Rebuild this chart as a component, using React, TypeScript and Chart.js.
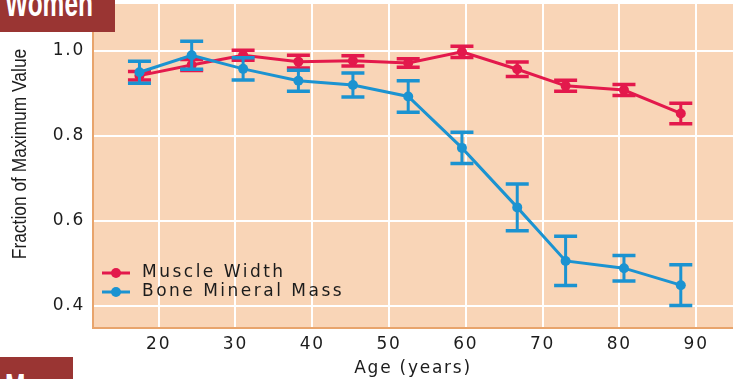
import React, { useEffect, useRef } from "react";
import { Chart, registerables } from "chart.js";

Chart.register(...registerables);

// ---- data ----
const ages = [17.5, 24.3, 31, 38.2, 45.3, 52.5, 59.5, 66.7, 73, 80.6, 88];
const muscleWidth = [0.942, 0.967, 0.99, 0.975, 0.977, 0.972, 0.998, 0.957, 0.918, 0.908, 0.853];
const muscleErr = [0.01, 0.013, 0.012, 0.015, 0.012, 0.01, 0.013, 0.017, 0.013, 0.013, 0.024];
const boneMass = [0.95, 0.99, 0.958, 0.93, 0.92, 0.893, 0.772, 0.632, 0.506, 0.489, 0.449];
const boneErr = [0.026, 0.033, 0.026, 0.025, 0.028, 0.037, 0.037, 0.055, 0.058, 0.03, 0.048];
const xTicks = [20, 30, 40, 50, 60, 70, 80, 90];
const yTicks = [0.4, 0.6, 0.8, 1.0];
const seriesLabels = ["Muscle Width", "Bone Mineral Mass"];
const xTitle = "Age (years)";
const yTitle = "Fraction of Maximum Value";
const topTag = "Women";
const bottomTag = "Men";

const RED = "#e3194c";
const BLUE = "#1b93d1";
const PEACH = "#f9d5b7";
const BORDER = "#e8a46c";
const TEXT = "#1c1c1c";
const TAG = "#9a3533";
const WIDE_FONT = "'DejaVu Sans', sans-serif";
const PLAIN_FONT = "'Liberation Sans', Arial, sans-serif";

const bgPlugin = {
  id: "bgPlugin",
  beforeDraw(chart: any) {
    const { ctx, chartArea } = chart;
    ctx.save();
    ctx.fillStyle = PEACH;
    ctx.fillRect(chartArea.left, chartArea.top, chartArea.right - chartArea.left, chartArea.bottom - chartArea.top);
    ctx.restore();
    try { ctx.letterSpacing = "1.75px"; } catch (e) {}
  },
};

const errorBarPlugin = {
  id: "errorBars",
  afterDatasetDraw(chart: any, args: any) {
    const ds = chart.data.datasets[args.index];
    const errs = ds.errors;
    if (!errs) return;
    const ctx = chart.ctx;
    const xs = chart.scales.x;
    const ys = chart.scales.y;
    ctx.save();
    ctx.strokeStyle = ds.borderColor;
    ds.data.forEach((p: any, i: number) => {
      const x = xs.getPixelForValue(p.x);
      const yTop = ys.getPixelForValue(p.y + errs[i]);
      const yBot = ys.getPixelForValue(p.y - errs[i]);
      ctx.lineWidth = 3;
      ctx.beginPath();
      ctx.moveTo(x, yTop);
      ctx.lineTo(x, yBot);
      ctx.stroke();
      ctx.lineWidth = 3.5;
      ctx.beginPath();
      ctx.moveTo(x - 11.5, yTop);
      ctx.lineTo(x + 11.5, yTop);
      ctx.moveTo(x - 11.5, yBot);
      ctx.lineTo(x + 11.5, yBot);
      ctx.stroke();
    });
    ctx.restore();
  },
};

const overlayPlugin = {
  id: "overlay",
  afterDraw(chart: any) {
    const { ctx, chartArea } = chart;
    try { ctx.letterSpacing = "0px"; } catch (e) {}
    // y axis title (condensed)
    ctx.save();
    ctx.fillStyle = TEXT;
    ctx.font = `20px ${PLAIN_FONT}`;
    ctx.textAlign = "center";
    ctx.textBaseline = "middle";
    ctx.translate(20, 154);
    ctx.rotate(-Math.PI / 2);
    ctx.scale(0.87, 1);
    ctx.fillText(yTitle, 0, 0);
    ctx.restore();

    // legend inside chart area
    ctx.save();
    try { ctx.letterSpacing = "2.5px"; } catch (e) {}
    ctx.font = `17px ${WIDE_FONT}`;
    ctx.textAlign = "left";
    ctx.textBaseline = "middle";
    chart.data.datasets.forEach((ds: any, i: number) => {
      const y = chartArea.bottom - 55 + i * 19;
      const x0 = chartArea.left + 9;
      ctx.strokeStyle = ds.borderColor;
      ctx.lineWidth = 3;
      ctx.beginPath();
      ctx.moveTo(x0, y);
      ctx.lineTo(x0 + 28, y);
      ctx.stroke();
      ctx.fillStyle = ds.borderColor;
      ctx.beginPath();
      ctx.arc(x0 + 14, y, 5, 0, Math.PI * 2);
      ctx.fill();
      ctx.fillStyle = TEXT;
      ctx.fillText(ds.label, chartArea.left + 49, y);
    });
    ctx.restore();
    try { ctx.letterSpacing = "0px"; } catch (e) {}
  },
};

export default function App() {
  const canvasRef = useRef<HTMLCanvasElement | null>(null);

  useEffect(() => {
    if (!canvasRef.current) return;
    const chart = new Chart(canvasRef.current, {
      type: "line",
      data: {
        datasets: [
          {
            label: seriesLabels[0],
            data: ages.map((a, i) => ({ x: a, y: muscleWidth[i] })),
            errors: muscleErr,
            borderColor: RED,
            backgroundColor: RED,
            borderWidth: 3,
            pointRadius: 5,
            pointBorderWidth: 0,
            pointBackgroundColor: RED,
            tension: 0,
            order: 2,
          } as any,
          {
            label: seriesLabels[1],
            data: ages.map((a, i) => ({ x: a, y: boneMass[i] })),
            errors: boneErr,
            borderColor: BLUE,
            backgroundColor: BLUE,
            borderWidth: 3,
            pointRadius: 5,
            pointBorderWidth: 0,
            pointBackgroundColor: BLUE,
            tension: 0,
            order: 1,
          } as any,
        ],
      },
      options: {
        responsive: false,
        animation: false,
        devicePixelRatio: 1,
        layout: { autoPadding: false, padding: { top: 4, right: 0, bottom: 0, left: 0 } },
        plugins: {
          legend: { display: false },
          tooltip: { enabled: false },
          title: { display: false },
        },
        scales: {
          x: {
            type: "linear",
            min: 11.45,
            max: 94.8,
            afterBuildTicks: (scale: any) => {
              scale.ticks = xTicks.map((v) => ({ value: v }));
            },
            afterFit: (scale: any) => {
              scale.height = 51;
              scale.paddingLeft = 0;
              scale.paddingRight = 0;
            },
            grid: { color: "#ffffff", lineWidth: 2, drawTicks: false },
            border: { display: true, color: BORDER, width: 2 },
            ticks: {
              padding: 6,
              color: TEXT,
              font: { family: WIDE_FONT, size: 17 },
              maxRotation: 0,
              callback: (v: any) => String(v),
            },
            title: {
              display: true,
              text: xTitle,
              color: TEXT,
              font: { family: WIDE_FONT, size: 17 },
              padding: { top: 0, bottom: 0 },
            },
          },
          y: {
            type: "linear",
            min: 0.3482,
            max: 1.1106,
            afterBuildTicks: (scale: any) => {
              scale.ticks = yTicks.map((v) => ({ value: v }));
            },
            afterFit: (scale: any) => {
              scale.width = 93;
              scale.paddingTop = 0;
              scale.paddingBottom = 0;
            },
            grid: { color: "#ffffff", lineWidth: 2, drawTicks: false },
            border: { display: true, color: BORDER, width: 2 },
            ticks: {
              padding: 8,
              color: TEXT,
              font: { family: WIDE_FONT, size: 17 },
              callback: (v: any) => Number(v).toFixed(1),
            },
            title: { display: false },
          },
        },
      } as any,
      plugins: [bgPlugin, errorBarPlugin, overlayPlugin],
    });
    return () => chart.destroy();
  }, []);

  const tagStyle: React.CSSProperties = {
    position: "absolute",
    left: 0,
    background: TAG,
    color: "#ffffff",
    fontFamily: PLAIN_FONT,
    fontWeight: "bold",
    fontSize: "36px",
    lineHeight: "36px",
    overflow: "hidden",
    whiteSpace: "nowrap",
  };
  const spanStyle: React.CSSProperties = {
    position: "absolute",
    left: 5,
    transform: "scaleX(0.68)",
    transformOrigin: "left center",
  };

  return (
    <div style={{ position: "fixed", left: 0, top: 0, width: 733, height: 379, background: "#ffffff", overflow: "hidden" }}>
      <canvas ref={canvasRef} width={733} height={379} style={{ display: "block", width: 733, height: 379 }} />
      <div style={{ ...tagStyle, top: 0, width: 115, height: 32 }}>
        <span style={{ ...spanStyle, top: -14.5 }}>{topTag}</span>
      </div>
      <div style={{ ...tagStyle, top: 357, width: 73, height: 22 }}>
        <span style={{ ...spanStyle, top: 12.5 }}>{bottomTag}</span>
      </div>
    </div>
  );
}
